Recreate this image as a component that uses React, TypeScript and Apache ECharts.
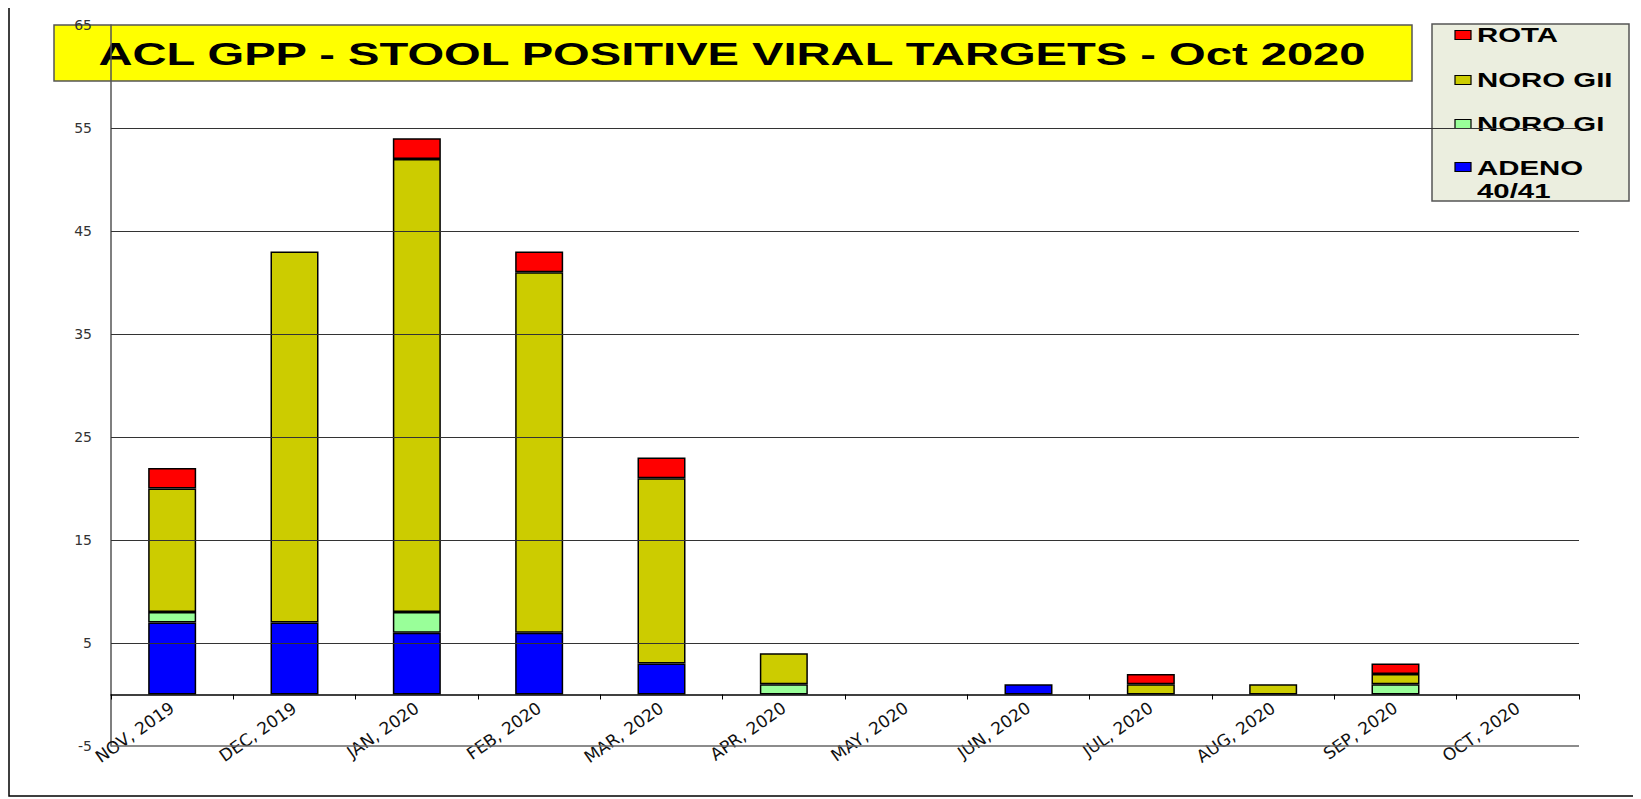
import React, { useEffect, useRef } from "react";
import * as echarts from "echarts";

const categories = ["NOV, 2019","DEC, 2019","JAN, 2020","FEB, 2020","MAR, 2020","APR, 2020","MAY, 2020","JUN, 2020","JUL, 2020","AUG, 2020","SEP, 2020","OCT, 2020"];
const adeno = [7, 7, 6, 6, 3, 0, 0, 1, 0, 0, 0, 0];
const noroGI = [1, 0, 2, 0, 0, 1, 0, 0, 0, 0, 1, 0];
const noroGII = [12, 36, 44, 35, 18, 3, 0, 0, 1, 1, 1, 0];
const rota = [2, 0, 2, 2, 2, 0, 0, 0, 1, 0, 1, 0];
const gridValues = [5, 15, 25, 35, 45, 55];
const shownTicks = [-5, 5, 15, 25, 35, 45, 55, 65];

export default function App() {
  const ref = useRef<HTMLDivElement>(null);
  useEffect(() => {
    const chart = echarts.init(ref.current!, null, { renderer: "svg" });
    const mk = (name: string, data: number[], color: string, extra: any = {}) => ({
      name, type: "bar", stack: "s", data: data.map((v) => (v === 0 ? null : v)), barWidth: 48,
      itemStyle: { color, borderColor: "#000", borderWidth: 1.5 }, ...extra,
    });
    const legendItems: any[] = [["ROTA", "#ff0000", 27], ["NORO GII", "#cccc00", 72], ["NORO GI", "#99ff99", 116], ["ADENO\n40/41", "#0000ff", 159]];
    chart.setOption({
      animation: false,
      textStyle: { fontFamily: "Liberation Sans, Arial" },
      grid: { left: 103, top: 17, right: 62, bottom: 53, containLabel: false, outerBoundsMode: "none" },
      xAxis: {
        type: "category", data: categories,
        axisLine: { show: true, onZero: true, lineStyle: { color: "#000", width: 1.5 } },
        axisTick: { show: true, length: 5, lineStyle: { color: "#000" } },
        axisLabel: { rotate: 35, fontSize: 17, color: "#111", margin: -40, interval: 0, fontFamily: "DejaVu Sans" },
      },
      yAxis: {
        type: "value", min: -5, max: 65, interval: 5,
        axisLine: { show: true, lineStyle: { color: "#555", width: 1.5 } },
        axisTick: { show: false },
        splitLine: { show: false },
        axisLabel: { color: "#333", fontSize: 14, margin: 19, fontFamily: "DejaVu Sans",
          formatter: (v: number) => (shownTicks.includes(v) ? String(v) : "") },
      },
      legend: { show: false },
      series: [
        mk("ADENO 40/41", adeno, "#0000ff", {
          markLine: {
            silent: true, symbol: "none", label: { show: false },
            lineStyle: { color: "#333", width: 1, type: "solid" },
            data: [...gridValues.map((v) => ({ yAxis: v })), { yAxis: -5, lineStyle: { color: "#666", width: 1.5 } }],
          },
        }),
        mk("NORO GI", noroGI, "#99ff99"),
        mk("NORO GII", noroGII, "#cccc00"),
        mk("ROTA", rota, "#ff0000"),
      ],
      graphic: [
        { type: "rect", shape: { x: 1, y: -4, width: 1628, height: 792 }, style: { fill: "none", stroke: "#000", lineWidth: 1.5 } },
        { type: "rect", shape: { x: 46, y: 17, width: 1358, height: 56 }, style: { fill: "#ffff00", stroke: "#555", lineWidth: 1.5 } },
        { type: "text", x: 724, y: 46, scaleX: 1.52, style: { text: "ACL GPP - STOOL POSITIVE VIRAL TARGETS - Oct 2020", font: "bold 31px Liberation Sans, Arial", fill: "#000", textAlign: "center", textVerticalAlign: "middle" } },
        { type: "rect", shape: { x: 1424, y: 16, width: 197, height: 177 }, style: { fill: "#ebeedf", stroke: "#555", lineWidth: 1.5 } },
        ...legendItems.flatMap(([t, c, y]) => [
          { type: "rect", shape: { x: 1447, y: y - 4.5, width: 16, height: 9 }, style: { fill: c, stroke: "#000", lineWidth: 1.2 } },
          { type: "text", x: 1469, y: t.includes("\n") ? y - 11 : y, scaleX: 1.47, style: { text: t, font: "bold 20px Liberation Sans, Arial", fill: "#000", textVerticalAlign: t.includes("\n") ? "top" : "middle", lineHeight: 23 } },
        ]),
      ],
    });
    return () => chart.dispose();
  }, []);
  return <div ref={ref} style={{ width: 1633, height: 791 }} />;
}
